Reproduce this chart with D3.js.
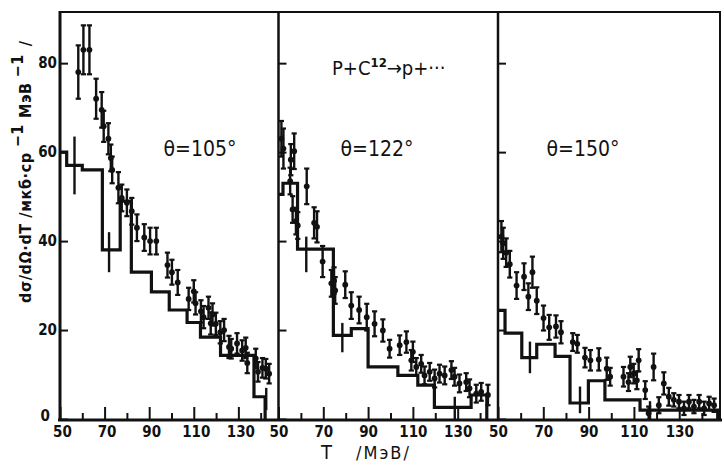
<!DOCTYPE html>
<html><head><meta charset="utf-8">
<script src="https://cdn.jsdelivr.net/npm/d3@7"></script>
<style>body{margin:0;background:#fff} svg{display:block}</style>
</head><body><svg id="c" width="724" height="466"></svg>
<script>
// ---- data ----
const panelAngles = ["θ=105°", "θ=122°", "θ=150°"];
const xMajorTicks = [50, 70, 90, 110, 130];
const xMinorTicks = [60, 80, 100, 120, 140];
const xTickLabels = ["50", "70", "90", "110", "130"];
const yTicks = [0, 20, 40, 60, 80];
const yTickLabels = ["0", "20", "40", "60", "80"];

// experimental points: [T, value, error]
const points105 = [
  [58.2,78,6],[60.5,83,5.5],[63.2,83,5.5],[66.2,72,4.5],[68.7,69.5,4],[69.6,65.8,3.5],
  [71.7,63,3.5],[72.8,58.7,3],[73.4,56,3],[76.2,52,3.5],[77.7,49.7,3],[80,48.6,3],
  [82.2,46.7,3],[84.5,43,3],[87.8,40.8,3],[90.4,40,3],[93.2,40,3],[98.2,34.6,2.8],
  [100.2,33,2.8],[102.8,30.7,2.8],[107.7,27,2.5],[110,28.7,2.5],[110.8,26,2.5],
  [113.2,24.2,2.5],[114.4,22.9,2.5],[116.6,25,2.5],[117.6,21.5,2.5],[118.4,23.5,2.5],
  [119.9,21.4,2.5],[121.9,19.5,2.5],[123.6,20,2.5],[125.8,16.2,2.5],[126.8,15.8,2.2],
  [129.4,17,2.3],[131.7,15.4,2.3],[133.3,16,2.3],[134,12.6,2.3],[137.8,13.6,2.2],
  [138.8,10.6,2.2],[140.8,11.5,2.2],[142.3,11.3,2.2],[143.8,10.2,2.2]
];
const points122 = [
  [51.3,63,4],[52.2,60.8,4.5],[55.5,58.3,3.5],[57,60.2,4],[55.2,53.5,3],[56.3,47.1,3],
  [57.8,44.5,3],[58.6,43.5,3],[62.6,52.3,4],[65.9,44.1,3.5],[67.2,43.2,3.5],[69.7,35.4,3.5],
  [73.6,30.5,3],[74.8,31.1,3],[75.3,28.9,3],[79.8,30.2,3],[82.5,25.5,3],[86,24.5,3],
  [89.4,22.9,3],[92.9,21.4,2.8],[96.6,19.9,2.5],[99.6,15.8,2],[104.1,16.6,2.2],
  [107.1,17.3,2.4],[109.3,13.2,2.3],[110,15.1,2.3],[111.5,11.7,2],[113.7,12.4,2],
  [115.2,9.8,2],[117.5,10.6,2],[119.7,9.1,2],[121.9,10.2,2],[124.2,9.8,2],[127.2,11,2],
  [128.6,9.5,2],[130.8,8,2],[133.8,8.3,2],[135.3,6.9,2],[138.3,5.7,2],[140.5,6.1,2],
  [143.5,5.4,2.3]
];
const points150 = [
  [51.5,41,3.5],[52.3,39.5,3.5],[53.6,37.4,3.2],[55.2,34.8,3],[58.2,30,3],[61.5,32,3],
  [63.4,27.5,3],[65.2,33,3.5],[67.1,26.6,3],[70.1,22.7,2.8],[72.6,20.6,2.8],[75.6,20.8,2.5],
  [77.8,19.5,2.5],[83,17.3,2],[85,16.9,2],[88.4,13.8,2.2],[90.8,13.2,2.3],[94.5,13.4,2.5],
  [98,11.3,2.5],[99.5,9.5,2],[105.4,9.5,2.2],[107.6,8.3,2],[108.4,11.7,2.3],[109.9,10.2,2.2],
  [111.3,8.7,2],[112.1,13.2,2.5],[115,6.5,2],[116.5,1.3,1.5],[118.7,11.7,3],[121,3.1,1.8],
  [123.2,8,2.5],[125.4,5,2],[127.6,4.3,1.5],[129.9,3.9,1.5],[132.1,2.4,1.5],[134.3,3.9,1.5],
  [136.5,2.8,1.5],[138.8,3.9,1.5],[141,2.4,1.5],[143.2,3.5,1.5],[145.4,3.1,1.5]
];

// calculated histograms: bin edges and values
const histEdges105 = [50,53,60,69,77,82,91,99,107,113,122,137,142];
const histValues105 = [60,57,56,38,49,33,28.6,24.5,21.7,18.4,14.3,5];
const histEdges122 = [50,52,58.5,74.5,82.5,90,103.3,112.2,119.6,136,143];
const histValues122 = [50.5,53,38.2,18.8,20.3,11.7,9.8,7.6,2.6,5.4];
const histEdges150 = [50,53.1,60.5,67.1,75.2,81.8,89.9,97.2,112.7,147];
const histValues150 = [24.4,19.3,13.8,16.8,14.1,3.6,8.6,4.3,2];

// histogram error bars: [T, upper, lower]
const histErr105 = [[56.5,63.5,50.5],[72,42,33],[142.5,7,2]];
const histErr122 = [[62.4,41,33],[78.5,21.6,15],[128.7,5,0]];
const histErr150 = [[64.1,17.4,10.3],[86.2,7.3,1.3],[117.1,4,0]];

// ---- drawing ----
const svg = d3.select("#c");
const ink = "#111";
const panelRanges = [[60,278.5],[278.5,498],[498,720]];
const y = d3.scaleLinear().domain([0,91.5]).range([419,12]);
const panels = [
  {pts: points105, edges: histEdges105, vals: histValues105, herr: histErr105},
  {pts: points122, edges: histEdges122, vals: histValues122, herr: histErr122},
  {pts: points150, edges: histEdges150, vals: histValues150, herr: histErr150}
];
const tickFont = "DejaVu Sans Condensed, DejaVu Sans, sans-serif";

panels.forEach((p, i) => {
  const x = d3.scaleLinear().domain([50,148]).range(panelRanges[i]);
  const g = svg.append("g");

  // x axis ticks (inward)
  const axMaj = d3.axisBottom(x).tickValues(xMajorTicks).tickSize(-12)
    .tickFormat((d,k) => xTickLabels[k]).tickPadding(15);
  const gx = g.append("g").attr("transform", "translate(0,419)").call(axMaj);
  const axMin = d3.axisBottom(x).tickValues(xMinorTicks).tickSize(-6).tickFormat("");
  const gx2 = g.append("g").attr("transform", "translate(0,419)").call(axMin);
  [gx, gx2].forEach(a => {
    a.select(".domain").remove();
    a.selectAll("line").attr("stroke", ink).attr("stroke-width", 2);
  });
  gx.selectAll("text").attr("font-family", tickFont).attr("font-weight", "bold")
    .attr("font-size", 15).attr("fill", ink).attr("dy", "0.2em")
    .attr("dx", i === 0 ? 2 : 0);

  // y axis ticks (inward)
  const axY = d3.axisLeft(y).tickValues(yTicks).tickSize(-8)
    .tickFormat((d,k) => i === 0 ? yTickLabels[k] : "").tickPadding(3);
  const gy = g.append("g").attr("transform", `translate(${panelRanges[i][0]},0)`).call(axY);
  gy.select(".domain").remove();
  gy.selectAll("line").attr("stroke", ink).attr("stroke-width", 2);
  gy.selectAll("text").attr("font-family", tickFont).attr("font-weight", "bold")
    .attr("font-size", 15).attr("fill", ink)
    .attr("dx", d => d === 0 ? -7 : 0).attr("dy", d => d === 0 ? "0.1em" : "0.32em");

  // histogram
  const hd = p.edges.map((e,k) => [e, p.vals[Math.min(k, p.vals.length-1)]]);
  hd.push([p.edges[p.edges.length-1], 0]);
  const line = d3.line().x(d => x(d[0])).y(d => y(d[1])).curve(d3.curveStepAfter);
  g.append("path").datum(hd).attr("d", line).attr("fill", "none")
    .attr("stroke", ink).attr("stroke-width", 3.2).attr("stroke-linejoin", "miter");
  g.selectAll(".herr").data(p.herr).join("line")
    .attr("x1", d => x(d[0])).attr("x2", d => x(d[0]))
    .attr("y1", d => y(d[1])).attr("y2", d => y(d[2]))
    .attr("stroke", ink).attr("stroke-width", 2.4);

  // points with error bars
  const pg = g.selectAll(".pt").data(p.pts).join("g");
  pg.append("line")
    .attr("x1", d => x(d[0])).attr("x2", d => x(d[0]))
    .attr("y1", d => y(d[1]+d[2])).attr("y2", d => y(d[1]-d[2]))
    .attr("stroke", ink).attr("stroke-width", 2.4);
  [1,-1].forEach(s => {
    pg.append("line")
      .attr("x1", d => x(d[0]) - 2.6).attr("x2", d => x(d[0]) + 2.6)
      .attr("y1", d => y(d[1]+s*d[2])).attr("y2", d => y(d[1]+s*d[2]))
      .attr("stroke", ink).attr("stroke-width", 2.2);
  });
  pg.append("circle").attr("cx", d => x(d[0])).attr("cy", d => y(d[1]))
    .attr("r", 2.9).attr("fill", ink);

  // angle label
  g.append("text").attr("x", [200, 377, 583][i]).attr("y", 156)
    .attr("text-anchor", "middle").attr("font-family", tickFont)
    .attr("font-size", 21).attr("fill", ink).text(panelAngles[i]);
});

// frame
svg.append("line").attr("x1",60).attr("x2",721).attr("y1",12).attr("y2",12).attr("stroke",ink).attr("stroke-width",2);
svg.append("line").attr("x1",58).attr("x2",722).attr("y1",420).attr("y2",420).attr("stroke",ink).attr("stroke-width",3);
[[60,3],[278.5,2.5],[498,2.5],[720,2]].forEach(([xx,w]) => {
  svg.append("line").attr("x1",xx).attr("x2",xx).attr("y1",11).attr("y2",421)
    .attr("stroke",ink).attr("stroke-width",w);
});

// reaction label
const rl = svg.append("text").attr("x", 332).attr("y", 75).attr("font-family", tickFont)
  .attr("font-size", 20).attr("fill", ink);
rl.append("tspan").text("P+C");
rl.append("tspan").attr("font-size", 13).attr("dy", -8).attr("font-weight","bold").text("12");
rl.append("tspan").attr("dy", 8).text("→p+···");

// x title
const xt = svg.append("text").attr("x", 321).attr("y", 459).attr("font-family", tickFont)
  .attr("fill", ink);
xt.append("tspan").attr("font-size", 20).text("T");
xt.append("tspan").attr("font-size", 18).attr("dx", 24).attr("letter-spacing", 2).text("/МэВ/");

// y title
const yt = svg.append("text").attr("transform", "translate(31,303) rotate(-90)")
  .attr("font-family", tickFont).attr("font-weight", "bold").attr("font-size", 16)
  .attr("letter-spacing", 0.6).attr("fill", ink);
yt.append("tspan").text("dσ/dΩ·dT /мкб·ср");
yt.append("tspan").attr("dy", -8).attr("dx", 5).text("−1");
yt.append("tspan").attr("dy", 8).attr("dx", 6).text("МэВ");
yt.append("tspan").attr("dy", -8).attr("dx", 5).text("−1");
yt.append("tspan").attr("dy", 8).attr("dx", 8).text("/");
</script></body></html>
